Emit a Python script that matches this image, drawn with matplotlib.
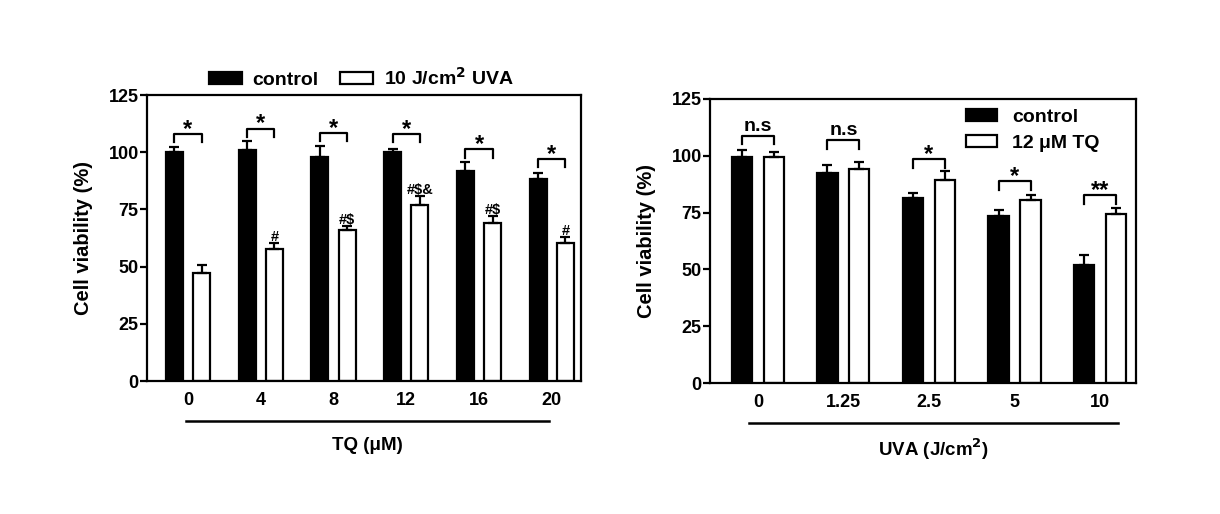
import matplotlib
matplotlib.use("Agg")
import matplotlib.pyplot as plt
import numpy as np
from matplotlib.patches import Patch

plt.rcParams['font.family'] = ['Liberation Sans', 'DejaVu Sans']
plt.rcParams['font.weight'] = 'bold'

# ---- Left panel data ----
tq_labels = ['0', '4', '8', '12', '16', '20']
left_control = [100, 101, 97.8, 100, 92, 88.2]
left_control_err = [2.2, 4, 4.8, 1.5, 3.7, 2.5]
left_uva = [47.1, 57.8, 65.9, 77.1, 69.1, 60.3]
left_uva_err = [3.6, 2.5, 1.8, 3.8, 3.0, 2.6]
left_marks = ['', '#', '#$', '#$&', '#$', '#']
left_bracket = [108.1, 110.3, 108.5, 108.1, 101.2, 97.1]
left_sig = ['*', '*', '*', '*', '*', '*']

# ---- Right panel data ----
uva_labels = ['0', '1.25', '2.5', '5', '10']
right_control = [99.6, 92.6, 81.3, 73.5, 51.9]
right_control_err = [3.0, 3.2, 2.2, 2.6, 4.4]
right_tq = [99.6, 94.1, 89.4, 80.6, 74.3]
right_tq_err = [2.2, 3.2, 3.7, 2.2, 2.9]
right_bracket = [108.8, 106.9, 98.5, 88.7, 82.6]
right_sig = ['n.s', 'n.s', '*', '*', '**']

W = 0.235
OFF = 0.187
LW = 1.6
FS = 13

fig = plt.figure(figsize=(12.2, 5.14), dpi=100)
axL = fig.add_axes([147/1220, 1-381/514, (581-147)/1220, (381-95)/514])
axR = fig.add_axes([710/1220, 1-383/514, (1136-710)/1220, (383-99)/514])


def draw(ax, labels, c, ce, t, te, bracket, sig, marks, xlim, xlabel, line_x, xl_y):
    x = np.arange(len(labels))
    ax.bar(x - OFF, c, W, color='black', edgecolor='black', linewidth=LW, zorder=2)
    ax.bar(x + OFF, t, W, color='white', edgecolor='black', linewidth=LW, zorder=2)
    ax.errorbar(x - OFF, c, yerr=[np.zeros(len(c)), ce], fmt='none', ecolor='black',
                elinewidth=LW, capsize=3.5, capthick=LW, zorder=1)
    ax.errorbar(x + OFF, t, yerr=[np.zeros(len(t)), te], fmt='none', ecolor='black',
                elinewidth=LW, capsize=3.5, capthick=LW, zorder=3)
    for i in range(len(labels)):
        b = bracket[i]
        ax.plot([i - OFF, i - OFF, i + OFF, i + OFF], [b - 3.7, b, b, b - 3.7],
                color='black', lw=LW, clip_on=False)
        if '*' in sig[i]:
            ax.text(i, b - 3.0, sig[i], ha='center', va='bottom', fontsize=17, fontweight='bold')
        else:
            ax.text(i, b + 0.5, sig[i], ha='center', va='bottom', fontsize=14, fontweight='bold')
        if marks is not None and marks[i]:
            ax.text(i + OFF, t[i] + te[i] - 0.6, marks[i], ha='center', va='bottom',
                    fontsize=10.5, fontweight='bold')
    ax.set_xlim(*xlim)
    ax.set_ylim(0, 125)
    ax.set_yticks([0, 25, 50, 75, 100, 125])
    ax.set_xticks(x)
    ax.set_xticklabels(labels)
    ax.tick_params(axis='x', length=0, pad=8, labelsize=FS)
    ax.tick_params(axis='y', length=5, width=LW, pad=1, labelsize=FS)
    for s in ax.spines.values():
        s.set_linewidth(LW)
    ax.set_ylabel('Cell viability (%)', fontsize=14.5, fontweight='bold', labelpad=11)
    trans = ax.get_xaxis_transform()
    ax.plot(line_x, [-0.14, -0.14], color='black', lw=1.8, transform=trans, clip_on=False)
    ax.text(np.mean(line_x), xl_y, xlabel, transform=trans, ha='center', va='top',
            fontsize=13.5, fontweight='bold')


draw(axL, tq_labels, left_control, left_control_err, left_uva, left_uva_err,
     left_bracket, left_sig, left_marks, (-0.563, 5.40), 'TQ (μM)', [-0.03, 4.96], -0.195)
draw(axR, uva_labels, right_control, right_control_err, right_tq, right_tq_err,
     right_bracket, right_sig, None, (-0.56, 4.42), 'UVA (J/cm$^\\mathbf{2}$)', [-0.1, 4.21], -0.19)

hL = [Patch(facecolor='black', edgecolor='black', linewidth=LW, label='control'),
      Patch(facecolor='white', edgecolor='black', linewidth=LW, label='10 J/cm$^\\mathbf{2}$ UVA')]
axL.legend(handles=hL, ncol=2, loc='center', bbox_to_anchor=(0.494, 1.06),
           frameon=False, fontsize=14, handlelength=1.7, handleheight=0.6,
           columnspacing=1.1, handletextpad=0.55, borderaxespad=0, borderpad=0)

hR = [Patch(facecolor='black', edgecolor='black', linewidth=LW, label='control'),
      Patch(facecolor='white', edgecolor='black', linewidth=LW, label='12 μM TQ')]
axR.legend(handles=hR, loc='upper left', bbox_to_anchor=(0.60, 0.965),
           frameon=False, fontsize=14, handlelength=1.6, handleheight=0.6,
           handletextpad=0.8, labelspacing=0.45, borderaxespad=0, borderpad=0)

fig.savefig('out.png', dpi=100)
